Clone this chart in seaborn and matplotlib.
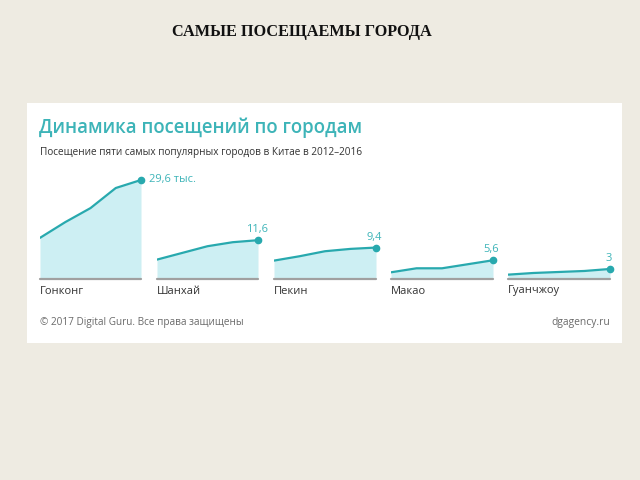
import matplotlib
matplotlib.use("Agg")
import matplotlib.pyplot as plt
import seaborn as sns
from matplotlib.patches import Rectangle

sns.set_theme(style="white")
plt.rcParams['font.family'] = ['Open Sans', 'DejaVu Sans']

# ---- data ----
years = [2012, 2013, 2014, 2015, 2016]
cities = ["Гонконг", "Шанхай", "Пекин", "Макао", "Гуанчжоу"]
hong_kong = [12.3, 17.0, 21.2, 27.2, 29.6]
shanghai = [5.8, 7.8, 9.8, 11.0, 11.6]
beijing = [5.5, 6.8, 8.3, 9.0, 9.4]
macao = [2.0, 3.2, 3.2, 4.4, 5.6]
guangzhou = [1.3, 1.8, 2.1, 2.4, 3.0]
value_labels = ["29,6 тыс.", "11,6", "9,4", "5,6", "3"]
series = [hong_kong, shanghai, beijing, macao, guangzhou]

page_title = "САМЫЕ ПОСЕЩАЕМЫ ГОРОДА"
card_title = "Динамика посещений по городам"
card_subtitle = "Посещение пяти самых популярных городов в Китае в 2012–2016"
footer_left = "© 2017 Digital Guru. Все права защищены"
footer_right = "dgagency.ru"

# ---- style ----
BG = "#eeebe2"
TEAL = "#28a9ae"
TEAL_TXT = "#3db4b8"
FILL = "#cdeff3"
W, H = 640, 480

fig = plt.figure(figsize=(6.4, 4.8), dpi=100)
fig.patch.set_facecolor(BG)

def fx(x):
    return x / W

def fy(y):
    return 1 - y / H

# white card
fig.patches.append(Rectangle((fx(27), fy(343)), fx(622) - fx(27), fy(103) - fy(343),
                             transform=fig.transFigure, facecolor="white",
                             edgecolor="none", zorder=-5))

fig.text(fx(302), fy(32), page_title, ha="center", va="center",
         fontsize=11.7, fontweight="bold", family=["Liberation Serif"], color="#111111")
fig.text(fx(39), fy(128), card_title, ha="left", va="center",
         fontsize=13.4, fontweight="semibold", color=TEAL_TXT)
fig.text(fx(40), fy(153), card_subtitle, ha="left", va="center",
         fontsize=7.2, color="#333333")
fig.text(fx(40), fy(322), footer_left, ha="left", va="center",
         fontsize=7.2, color="#6a6a6a")
fig.text(fx(610), fy(322), footer_right, ha="right", va="center",
         fontsize=7.4, color="#6a6a6a")

x_ranges = [(40, 141), (157, 258), (274, 376), (391, 493), (508, 610)]
base_y = 279
ymax = 30
px_per_unit = 3.345
top_y = base_y - ymax * px_per_unit

for i, (city, vals, lab) in enumerate(zip(cities, series, value_labels)):
    x0, x1 = x_ranges[i]
    ax = fig.add_axes([fx(x0), fy(base_y), fx(x1) - fx(x0), fy(top_y) - fy(base_y)])
    ax.set_facecolor("none")
    ax.fill_between(years, vals, 0, color=FILL, linewidth=0)
    sns.lineplot(x=years, y=vals, ax=ax, color=TEAL, linewidth=1.6)
    ax.plot([years[-1]], [vals[-1]], "o", color=TEAL, markersize=4.5, clip_on=False)
    ax.axhline(0, color="#a0a0a0", linewidth=1.6, clip_on=False)
    ax.set_xlim(years[0], years[-1])
    ax.set_ylim(0, ymax)
    ax.axis("off")
    if i == 0:
        ax.annotate(lab, (years[-1], vals[-1]), xytext=(6, 0), textcoords="offset points",
                    ha="left", va="center", fontsize=8, color=TEAL_TXT, annotation_clip=False)
    else:
        ax.annotate(lab, (years[-1], vals[-1]), xytext=(-1, 7.5), textcoords="offset points",
                    ha="center", va="center", fontsize=8, color=TEAL_TXT, annotation_clip=False)
    ax.text(0, -12 / (base_y - top_y), city, transform=ax.transAxes,
            ha="left", va="center", fontsize=8, color="#333333")

fig.savefig("out.png", dpi=100, facecolor=BG)
